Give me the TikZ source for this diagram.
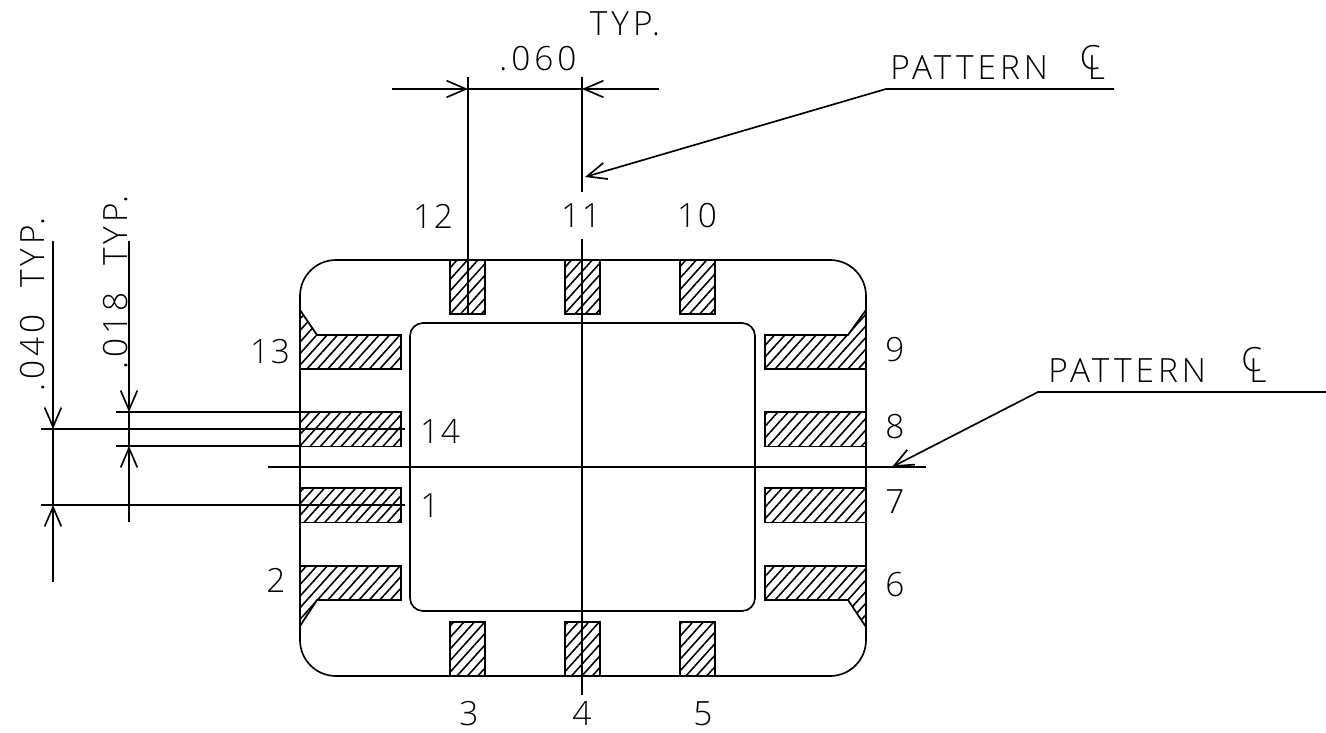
\documentclass[tikz,border=0pt]{standalone}
\usepackage{fontspec}
\setmainfont[LetterSpace=5]{Open Sans Light}
\newfontfamily\capsfont[LetterSpace=12]{Open Sans Light}
\usetikzlibrary{arrows.meta,patterns.meta}
\tikzset{
  lbl/.style={inner sep=0pt,font=\fontsize{19}{19}\selectfont},
  capslbl/.style={inner sep=0pt,font=\capsfont\fontsize{19}{19}\selectfont},
  padbox/.style={draw,line width=1pt,pattern={Lines[angle=48,distance=4.4pt,line width=.9pt]}},
  ln/.style={line width=.95pt},
  tip/.style={{Straight Barb[length=11pt,width=9.5pt,line width=.95pt]}-},
}
% centre line mark, a C laid over an L
\newcommand{\clmark}{\rlap{\hspace{-.24em}\raisebox{.3em}{\fontsize{19}{19}\selectfont C}}L}
\begin{document}
\begin{tikzpicture}[x=0.02cm,y=-0.02cm]
\useasboundingbox (0,0) rectangle (1326,733);
% package outline
\draw[ln,rounded corners=0.72cm] (300,260) rectangle (866,676);
\draw[ln,rounded corners=0.26cm] (410,323) rectangle (755,611);
% pads
\foreach \px in {450,565,680} {
  \draw[padbox] (\px,260) rectangle ++(35,54);
  \draw[padbox] (\px,622) rectangle ++(35,54);
}
\foreach \py in {412,488} {
  \draw[padbox] (300,\py) rectangle ++(101,34.5);
  \draw[padbox] (765,\py) rectangle ++(101,34.5);
}
\draw[padbox] (401,335)--(317,335)--(300,310)--(300,369)--(401,369)--cycle;
\draw[padbox] (401,600)--(317,600)--(300,626)--(300,566)--(401,566)--cycle;
\draw[padbox] (765,335)--(848,335)--(866,310)--(866,369)--(765,369)--cycle;
\draw[padbox] (765,600)--(848,600)--(866,627)--(866,566)--(765,566)--cycle;
% centre lines
\coordinate (vtop) at (582,77);
\coordinate (vgap) at (582,192);
\coordinate (vlow) at (582,239);
\coordinate (vend) at (582,695);
\coordinate (hleft) at (268,467);
\coordinate (hright) at (926,467);
\draw[ln] (vtop) -- (vgap);
\draw[ln] (vlow) -- (vend);
\draw[ln] (hleft) -- (hright);
% .060 dimension
\coordinate (wtop) at (468,77);
\coordinate (wend) at (468,314);
\coordinate (wa) at (392,89);
\coordinate (wb) at (468,89);
\coordinate (wc) at (582,89);
\coordinate (wd) at (659,89);
\draw[ln] (wtop) -- (wend);
\draw[ln,tip] (wb) -- (wa);
\draw[ln] (wb) -- (wc);
\draw[ln,tip] (wc) -- (wd);
\node[capslbl] (typtop) at (625,24) {TYP.};
\node[capslbl] (pitch) at (538,59) {.\kern.12em 060};
% pattern leaders
\coordinate (la) at (1114,89);
\coordinate (lb) at (886,89);
\coordinate (lc) at (585,177);
\draw[ln,tip] (lc) -- (lb) -- (la);
\node[capslbl,anchor=base west] (pata) at (890,80) {PATTERN\hspace{1.2em}\clmark};
\coordinate (ma) at (1326,392);
\coordinate (mb) at (1038,392);
\coordinate (mc) at (892,467);
\draw[ln,tip] (mc) -- (mb) -- (ma);
\node[capslbl,anchor=base west] (patb) at (1048,382) {PATTERN\hspace{1.3em}\clmark};
% .040 and .018 dimensions
\coordinate (pa) at (41,429);
\coordinate (pb) at (405,429);
\coordinate (pc) at (41,505);
\coordinate (pd) at (405,505);
\draw[ln] (pa) -- (pb);
\draw[ln] (pc) -- (pd);
\coordinate (qa) at (116,412);
\coordinate (qb) at (300,412);
\coordinate (qc) at (116,446);
\coordinate (qd) at (300,446);
\draw[ln] (qa) -- (qb);
\draw[ln] (qc) -- (qd);
\coordinate (ra) at (53,241);
\coordinate (rb) at (53,429);
\coordinate (rc) at (53,505);
\coordinate (rd) at (53,582);
\draw[ln,tip] (rb) -- (ra);
\draw[ln] (rb) -- (rc);
\draw[ln,tip] (rc) -- (rd);
\coordinate (sa) at (129,241);
\coordinate (sb) at (129,412);
\coordinate (sc) at (129,446);
\coordinate (sd) at (129,522);
\draw[ln,tip] (sb) -- (sa);
\draw[ln] (sb) -- (sc);
\draw[ln,tip] (sc) -- (sd);
\node[capslbl,rotate=90,anchor=base west] (pitchb) at (44,392) {.\kern.12em 040\hspace{.8em}TYP.};
\node[capslbl,rotate=90,anchor=base west] (widthb) at (127,370) {.\kern.12em 018\hspace{.8em}TYP.};
% pin numbers
\foreach \pn/\px/\py in {12/433/216,11/581/216,10/697/216,13/270/352,14/440/432,1/430/506,2/276/580,9/895/350,8/895/427,7/895/502,6/895/585,3/469/714,4/582/714,5/703/714} {
  \node[lbl] (pin\pn) at (\px,\py) {\pn};
}
\end{tikzpicture}
\end{document}
